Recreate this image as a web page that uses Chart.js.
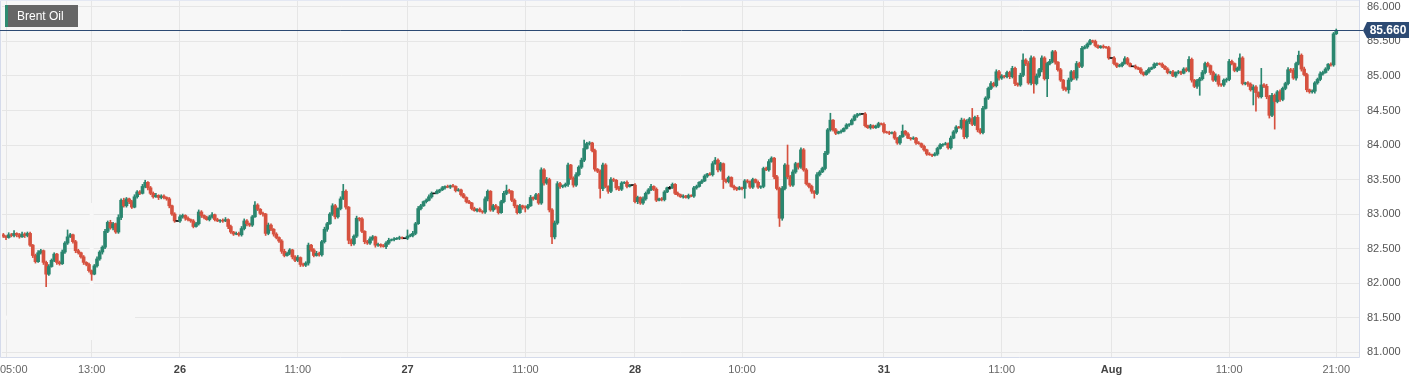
<!DOCTYPE html>
<html><head><meta charset="utf-8">
<script src="https://cdn.jsdelivr.net/npm/chart.js@4.4.0/dist/chart.umd.min.js"></script>
<style>html,body{margin:0;padding:0;background:#fff;}canvas{display:block;}</style>
</head><body>
<canvas id="c" width="1424" height="383"></canvas>
<script>
// 15-minute candles, Jul 25 04:45 -> Aug 1 21:00 (close prices)
const closes = [
82.68,82.66,82.70,82.69,82.72,82.70,82.67,82.71,82.69,82.72,
82.55,82.40,82.31,82.44,82.47,82.30,82.13,82.24,82.33,82.42,
82.30,82.28,82.45,82.58,82.67,82.70,82.60,82.47,82.44,82.38,
82.30,82.27,82.18,82.13,82.25,82.35,82.45,82.52,82.75,82.88,
82.80,82.86,82.74,82.95,83.20,83.12,83.22,83.18,83.10,83.25,
83.32,83.30,83.40,83.46,83.38,83.30,83.25,83.27,83.24,83.26,
83.24,83.22,83.12,83.00,82.90,82.90,82.96,82.98,82.94,82.92,
82.90,82.82,82.86,83.03,82.98,82.95,82.92,82.96,82.99,82.92,
82.90,82.91,82.90,82.92,82.82,82.74,82.71,82.72,82.70,82.79,
82.90,82.86,82.84,82.96,83.13,83.07,83.01,83.00,82.72,82.84,
82.78,82.71,82.66,82.61,82.46,82.40,82.43,82.48,82.38,82.33,
82.37,82.27,82.26,82.29,82.55,82.48,82.40,82.43,82.41,82.60,
82.78,82.86,83.00,83.12,82.96,83.08,83.22,83.33,83.10,82.62,
82.57,82.68,82.94,82.93,82.75,82.60,82.58,82.64,82.67,82.55,
82.56,82.54,82.53,82.58,82.62,82.63,82.64,82.65,82.66,82.65,
82.65,82.68,82.69,82.72,82.86,83.08,83.12,83.18,83.20,83.25,
83.30,83.30,83.33,83.35,83.38,83.40,83.39,83.41,83.40,83.34,
83.35,83.28,83.24,83.18,83.16,83.08,83.05,83.07,83.04,83.03,
83.22,83.33,83.06,83.12,83.10,83.02,83.18,83.30,83.34,83.33,
83.20,83.12,83.02,83.12,83.10,83.09,83.12,83.24,83.22,83.28,
83.16,83.64,83.45,83.50,83.06,82.67,82.87,83.44,83.40,83.41,
83.43,83.71,83.52,83.42,83.57,83.68,83.78,83.95,84.02,84.03,
83.92,83.65,83.62,83.37,83.71,83.40,83.33,83.50,83.49,83.38,
83.36,83.45,83.46,83.40,83.42,83.42,83.18,83.24,83.16,83.22,
83.30,83.35,83.40,83.36,83.20,83.22,83.21,83.32,83.38,83.38,
83.43,83.30,83.28,83.25,83.26,83.24,83.27,83.26,83.38,83.40,
83.46,83.48,83.55,83.58,83.57,83.73,83.78,83.64,83.73,83.50,
83.47,83.53,83.40,83.38,83.36,83.38,83.37,83.48,83.47,83.39,
83.50,83.46,83.39,83.40,83.66,83.64,83.76,83.81,83.54,83.37,
82.94,83.37,83.71,83.54,83.42,83.61,83.73,83.68,83.93,83.64,
83.44,83.40,83.33,83.30,83.57,83.61,83.66,83.88,84.22,84.36,
84.22,84.17,84.19,84.20,84.24,84.29,84.30,84.36,84.42,84.44,
84.45,84.45,84.28,84.25,84.28,84.25,84.27,84.31,84.30,84.19,
84.18,84.17,84.18,84.10,84.03,84.12,84.20,84.16,84.10,84.09,
84.10,84.03,84.02,83.98,83.93,83.87,83.86,83.85,83.87,83.95,
84.00,84.01,84.02,83.96,84.10,84.19,84.26,84.25,84.36,84.12,
84.34,84.38,84.30,84.40,84.22,84.18,84.53,84.68,84.82,84.89,
84.86,85.06,84.97,85.00,84.99,85.05,84.99,85.11,84.89,84.87,
85.01,85.23,85.18,84.90,85.26,84.89,85.00,85.09,85.26,84.96,
85.18,85.21,85.35,85.20,85.09,84.94,84.82,84.80,84.94,85.06,
84.97,85.18,85.14,85.40,85.42,85.46,85.51,85.50,85.44,85.41,
85.43,85.42,85.41,85.26,85.26,85.18,85.14,85.15,85.18,85.25,
85.18,85.14,85.14,85.12,85.10,85.05,85.02,85.06,85.10,85.12,
85.17,85.18,85.17,85.14,85.10,85.05,85.06,85.00,85.05,85.06,
85.04,85.10,85.08,85.24,84.94,84.85,84.93,84.96,85.05,85.18,
85.15,85.05,84.94,85.00,84.88,84.87,84.94,84.95,85.21,85.18,
85.08,85.11,85.26,84.89,84.90,84.88,84.80,84.84,84.76,84.70,
84.87,84.85,84.70,84.43,84.72,84.63,84.77,84.66,84.82,84.89,
85.09,85.08,84.97,85.18,85.30,85.10,85.02,84.80,84.77,84.78,
84.90,84.95,85.03,85.05,85.10,85.17,85.16,85.61,85.66
];
// upper / lower wick lengths beyond the body, in cents
const wickUp = [
2,1,3,2,4,1,2,3,2,2, 2,1,2,3,2,1,2,3,2,2, 1,2,3,2,10,2,1,2,2,1, 2,1,2,1,2,3,2,2,3,2,
3,2,1,4,2,3,2,1,2,3, 2,2,3,3,1,2,2,3,1,2, 2,1,2,1,2,0,3,2,1,2, 1,2,2,3,2,1,2,2,3,1,
2,1,2,3,1,2,1,2,2,3, 3,2,1,2,5,2,1,2,1,3, 2,1,2,1,2,3,2,2,1,2, 3,1,2,2,3,1,2,3,2,2,
3,2,2,3,2,1,3,10,2,1, 2,2,3,1,2,1,2,3,2,1, 2,1,2,2,3,1,2,1,2,1, 0,9,2,3,2,3,2,1,2,3,
2,0,2,1,2,1,2,1,2,1, 2,1,2,1,2,1,2,1,2,1, 3,2,1,2,2,1,2,3,8,2, 1,2,1,2,1,2,2,3,1,2,
2,3,2,3,2,2,3,3,2,1, 2,3,1,2,3,2,3,12,2,2, 1,2,1,2,3,2,1,3,2,1, 2,2,1,2,1,0,2,2,1,3,
2,2,3,1,2,1,2,2,1,2, 2,1,2,1,2,1,2,1,2,2, 1,2,2,1,2,3,4,2,2,1, 1,2,1,2,1,2,1,2,2,1,
2,1,2,1,2,2,3,2,1,2, 2,3,2,29,2,3,2,1,3,2, 2,1,2,1,3,2,2,3,2,10, 1,2,1,2,1,2,1,2,2,2,
1,0,2,1,2,1,2,2,1,2, 1,2,1,2,1,2,9,1,2,1, 2,1,2,1,2,1,2,1,2,2, 2,1,2,1,3,2,2,1,3,2,
3,2,15,2,3,2,3,2,2,3, 2,3,2,2,1,2,2,3,2,1, 3,9,2,3,3,2,3,2,3,2, 2,3,2,2,1,2,1,2,3,2,
2,3,2,3,2,2,2,1,2,1, 1,2,1,2,0,2,1,2,2,3, 2,1,0,2,1,2,1,2,2,1, 2,1,1,2,1,2,1,2,1,2,
1,2,2,4,2,1,2,2,3,2, 2,1,2,3,2,1,2,2,3,2, 1,2,6,2,1,2,2,3,2,1, 24,2,3,2,3,2,2,3,2,2,
3,2,3,2,6,2,3,2,1,2, 2,2,3,2,2,1,2,2,2
];
const wickDn = [
2,3,1,2,2,3,2,1,3,2, 2,3,2,1,2,3,18,2,1,2, 3,2,1,2,2,1,2,3,2,2, 3,2,2,9,1,2,2,3,2,2,
2,3,2,2,3,2,2,3,2,1, 2,2,1,2,3,2,2,1,3,2, 2,2,3,2,2,0,2,2,3,2, 2,2,1,2,3,2,1,2,2,2,
1,2,2,1,3,2,2,1,2,2, 2,3,2,2,1,2,2,3,3,2, 2,3,2,2,3,2,1,2,3,2, 2,3,2,2,3,2,2,1,2,2,
2,3,1,2,3,2,2,1,3,5, 3,2,2,3,2,3,2,2,2,3, 2,2,1,3,2,1,2,1,2,1, 0,2,1,2,2,1,2,1,2,1,
2,0,1,2,1,2,1,2,1,2, 1,2,1,2,1,2,1,2,1,2, 2,3,2,2,3,2,1,2,2,3, 2,3,2,1,3,6,2,1,2,1,
2,2,3,2,3,10,3,2,3,2, 2,3,2,3,2,2,2,2,1,2, 2,3,2,14,3,2,3,2,2,3, 2,2,1,2,1,0,2,3,2,2,
2,1,1,2,2,1,2,2,1,2, 1,2,2,1,2,1,2,1,2,2, 1,2,1,2,1,2,1,3,2,13, 2,2,1,3,2,1,2,14,2,2,
2,1,2,2,2,1,2,1,3,2, 12,3,2,3,2,2,2,3,2,2, 2,2,3,7,2,2,1,2,2,2, 2,2,1,2,1,1,2,1,1,2,
1,0,2,1,2,1,1,2,1,2, 1,2,1,2,2,2,1,2,1,2, 1,2,1,2,2,2,1,2,1,2, 1,2,1,2,2,1,2,1,2,3,
2,3,2,2,3,2,2,1,2,2, 2,2,3,2,2,2,3,2,3,2, 2,2,3,2,3,14,2,2,3,2, 26,2,2,3,2,2,3,2,5,2,
2,3,2,2,1,2,1,2,2,1, 1,2,1,2,0,2,2,1,2,1, 2,1,0,2,1,2,2,1,2,1, 1,2,1,2,1,2,2,1,2,2,
2,1,2,2,3,2,3,21,2,2, 2,3,2,2,3,2,2,3,2,2, 2,2,3,2,2,3,2,22,27,2, 2,2,3,4,2,40,2,3,2,2,
2,3,2,3,2,3,2,3,2,2, 3,2,2,2,1,2,2,2,1
];
const firstOpen = 82.70;
const emptySlots = 8;
const tickIndex = [1, 33, 66, 110, 151, 195, 236, 276, 329, 373, 414, 458, 498];
const tickText  = ['05:00','13:00','26','11:00','27','11:00','28','10:00','31','11:00','Aug','11:00','21:00'];
const tickBold  = [false,false,true,false,true,false,true,false,true,false,true,false,false];
const yTicks = [81.0, 81.5, 82.0, 82.5, 83.0, 83.5, 84.0, 84.5, 85.0, 85.5, 86.0];
const yMin = 80.93, yMax = 86.10;
const lastPrice = 85.660;
const seriesName = 'Brent Oil';

const GREEN = '#2a866f', RED = '#d6513f', DOJI = '#111111';
const FONT = "'Liberation Sans', Arial, Helvetica, sans-serif";

const N = closes.length;
const labels = Array.from({length: N + emptySlots}, (_, i) => String(i));
const opens = closes.map((c, i) => i ? closes[i - 1] : firstOpen);
const bodies = closes.map((c, i) => {
  const o = opens[i];
  return o === c ? [c - 0.007, c + 0.007] : [o, c];
});
const wicks = closes.map((c, i) => {
  const o = opens[i];
  return [Math.min(o, c) - (wickDn[i] || 0) / 100, Math.max(o, c) + (wickUp[i] || 0) / 100];
});
const colors = closes.map((c, i) => c > opens[i] ? GREEN : (c < opens[i] ? RED : DOJI));
const tickPos = new Map(tickIndex.map((t, k) => [t, k]));

const decor = {
  id: 'decor',
  beforeDraw(chart) {
    const {ctx, chartArea: a} = chart;
    ctx.save();
    ctx.fillStyle = '#ffffff';
    ctx.fillRect(0, 0, chart.width, chart.height);
    ctx.fillStyle = '#f7f7f7';
    ctx.fillRect(0, a.top, a.right, a.bottom - a.top);
    ctx.restore();
  },
  beforeDatasetsDraw(chart) {
    const {ctx, scales} = chart;
    ctx.save();
    ctx.fillStyle = '#f7f7f7';
    const x13 = scales.x.getPixelForValue(tickIndex[1]);
    ctx.fillRect(x13 - 2, 203, 4, 137);
    const y815 = scales.y.getPixelForValue(81.5);
    ctx.fillRect(0, y815 - 2, 135, 4);
    ctx.restore();
  },
  afterDatasetsDraw(chart) {
    const {ctx, chartArea: a, scales} = chart;
    ctx.save();
    // plot borders
    ctx.strokeStyle = '#d5dbeb';
    ctx.lineWidth = 1;
    ctx.beginPath();
    ctx.moveTo(0.5, a.top); ctx.lineTo(0.5, a.bottom + 0.5);
    ctx.lineTo(a.right + 0.5, a.bottom + 0.5); ctx.lineTo(a.right + 0.5, a.top);
    ctx.stroke();
    ctx.strokeStyle = '#e4e8f3';
    ctx.beginPath(); ctx.moveTo(0, 0.5); ctx.lineTo(a.right, 0.5); ctx.stroke();
    // x tick labels
    ctx.textBaseline = 'middle';
    tickIndex.forEach((t, k) => {
      ctx.font = (tickBold[k] ? 'bold ' : '') + '11px ' + FONT;
      ctx.fillStyle = tickBold[k] ? '#444444' : '#666666';
      const w = ctx.measureText(tickText[k]).width;
      let x = scales.x.getPixelForValue(t) - w / 2;
      x = Math.max(0, Math.min(x, chart.width - w));
      ctx.textAlign = 'left';
      ctx.fillText(tickText[k], x, 370);
    });
    // last price line
    const yp = Math.round(scales.y.getPixelForValue(lastPrice)) + 0.5;
    ctx.strokeStyle = '#2c4a73';
    ctx.beginPath(); ctx.moveTo(0, yp); ctx.lineTo(a.right + 4, yp); ctx.stroke();
    // last price label
    const bx = a.right + 8, bw = 42, bh = 16, by = yp - 8.5;
    ctx.fillStyle = '#2c4a73';
    ctx.beginPath();
    ctx.moveTo(a.right + 4, yp);
    ctx.lineTo(bx, by); ctx.lineTo(bx + bw, by); ctx.lineTo(bx + bw, by + bh);
    ctx.lineTo(bx, by + bh); ctx.closePath(); ctx.fill();
    ctx.fillStyle = '#ffffff';
    ctx.font = 'bold 12px ' + FONT;
    ctx.textAlign = 'center'; ctx.textBaseline = 'middle';
    ctx.fillText(lastPrice.toFixed(3), bx + bw / 2, yp + 0.5);
    // series label
    ctx.fillStyle = '#666666';
    ctx.fillRect(5, 5, 73, 22);
    ctx.fillStyle = '#2e8b70';
    ctx.fillRect(5, 5, 3, 22);
    ctx.fillStyle = '#ffffff';
    ctx.font = '12px ' + FONT;
    ctx.textAlign = 'left'; ctx.textBaseline = 'middle';
    ctx.fillText(seriesName, 17, 16.5);
    ctx.restore();
  }
};

new Chart(document.getElementById('c'), {
  type: 'bar',
  data: {
    labels,
    datasets: [
      { data: wicks, backgroundColor: colors, barThickness: 1, grouped: false, order: 2, borderWidth: 0 },
      { data: bodies, backgroundColor: colors, barThickness: 3, grouped: false, order: 1, borderWidth: 0 }
    ]
  },
  options: {
    responsive: false,
    animation: false,
    events: [],
    layout: { padding: { left: 2, top: 0, right: 0, bottom: 0 } },
    plugins: { legend: { display: false }, tooltip: { enabled: false } },
    scales: {
      x: {
        type: 'category',
        offset: true,
        border: { display: false },
        grid: {
          offset: false,
          drawTicks: false,
          color: c => tickPos.has(c.index) ? '#e6e6e6' : 'rgba(0,0,0,0)'
        },
        ticks: { display: false, autoSkip: false, maxRotation: 0, minRotation: 0 },
        afterFit: s => { s.height = 26; s.paddingLeft = 0; s.paddingRight = 0; }
      },
      y: {
        position: 'right',
        min: yMin, max: yMax,
        border: { display: false },
        afterBuildTicks: s => { s.ticks = yTicks.map(v => ({ value: v })); },
        grid: { color: '#e6e6e6', drawTicks: false },
        ticks: { padding: 8, callback: v => Number(v).toFixed(3), font: { family: FONT, size: 11 }, color: '#555555' },
        afterFit: s => { s.width = 65; s.paddingTop = 0; s.paddingBottom = 0; }
      }
    }
  },
  plugins: [decor]
});
</script>
</body></html>
